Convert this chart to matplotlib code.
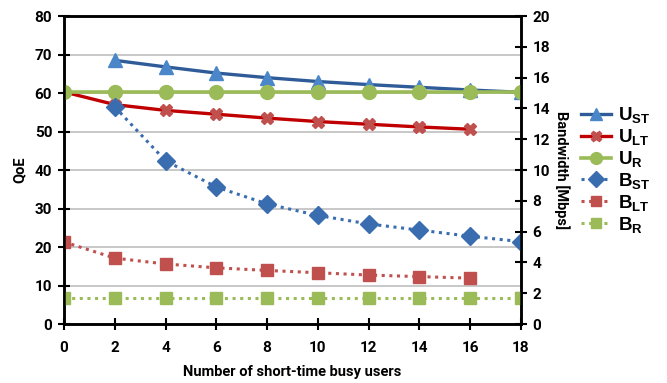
import matplotlib
matplotlib.use("Agg")
import matplotlib.pyplot as plt

x_all = [0, 2, 4, 6, 8, 10, 12, 14, 16, 18]
x_st = [2, 4, 6, 8, 10, 12, 14, 16, 18]
x_lt = [0, 2, 4, 6, 8, 10, 12, 14, 16]

u_st = [68.5, 66.8, 65.2, 64.0, 63.0, 62.2, 61.5, 60.8, 60.2]
u_lt = [60.3, 57.0, 55.5, 54.5, 53.5, 52.6, 51.9, 51.2, 50.6]
u_r = [60.2] * 10

b_st = [14.1, 10.6, 8.9, 7.8, 7.05, 6.5, 6.1, 5.7, 5.35]
b_lt = [5.33, 4.28, 3.9, 3.65, 3.48, 3.33, 3.18, 3.08, 2.98]
b_r = [1.7] * 10

labels = [r"$\mathregular{U_{ST}}$", r"$\mathregular{U_{LT}}$", r"$\mathregular{U_{R}}$",
          r"$\mathregular{B_{ST}}$", r"$\mathregular{B_{LT}}$", r"$\mathregular{B_{R}}$"]

tickfont = "Roboto"
fig = plt.figure(figsize=(6.67, 3.83), dpi=100)
ax = fig.add_axes([0.096, 0.154, 0.685, 0.804])
ax2 = ax.twinx()

l1, = ax.plot(x_st, u_st, color="#2F5C99", lw=2.4, marker="^", ms=10,
              mfc="#4A86C8", mec="#4A86C8", zorder=3)
l2, = ax.plot(x_lt, u_lt, color="#C00000", lw=2.4, marker="X", ms=9,
              mfc="#C0504D", mec="#C0504D", zorder=3)
l3, = ax.plot(x_all, u_r, color="#9BBB59", lw=2.6, marker="o", ms=10,
              mfc="#9BBB59", mec="#9BBB59", zorder=3)
l4, = ax2.plot(x_st, b_st, color="#3A6DB0", lw=2.2, ls=(0, (1, 1.5)), marker="D", ms=9,
               mfc="#3A6DB0", mec="#3A6DB0")
l5, = ax2.plot(x_lt, b_lt, color="#C0504D", lw=2.2, ls=(0, (1, 1.5)), marker="s", ms=9,
               mfc="#C0504D", mec="#C0504D")
l6, = ax2.plot(x_all, b_r, color="#9BBB59", lw=2.2, ls=(0, (1, 1.5)), marker="s", ms=9,
               mfc="#9BBB59", mec="#9BBB59")

ax.set_xlim(0, 18)
ax.set_ylim(0, 80)
ax2.set_ylim(0, 20)
ax.set_xticks(range(0, 19, 2))
ax.set_yticks(range(0, 81, 10))
ax2.set_yticks(range(0, 21, 2))
ax.grid(axis="y", color="#BFBFBF", lw=1.2)
ax.set_axisbelow(True)

for a in (ax, ax2):
    for s in a.spines.values():
        s.set_linewidth(1.8)
        s.set_color("black")
    a.tick_params(direction="inout", length=9, width=1.5, labelsize=11, pad=4)
    for t in a.get_xticklabels() + a.get_yticklabels():
        t.set_fontweight("bold")
        t.set_fontfamily(tickfont)
ax.tick_params(axis="x", pad=8)

ax.set_xlabel("Number of short-time busy users", fontsize=10.5, fontweight="bold",
              fontfamily=tickfont, labelpad=7)
ax.set_ylabel("QoE", fontsize=10.5, fontweight="bold", fontfamily=tickfont, labelpad=6)
ax2.set_ylabel("Bandwidth [Mbps]", fontsize=10.5, fontweight="bold", fontfamily=tickfont,
               rotation=-90, labelpad=14)

fig.legend([l1, l2, l3, l4, l5, l6], labels, loc="center left",
           bbox_to_anchor=(0.857, 0.556), frameon=False,
           prop={"family": "Liberation Sans", "weight": "bold", "size": 13.5},
           handlelength=1.6, labelspacing=0.1, handletextpad=0.35, borderpad=0,
           markerscale=0.85)

fig.savefig("out.png", dpi=100)
